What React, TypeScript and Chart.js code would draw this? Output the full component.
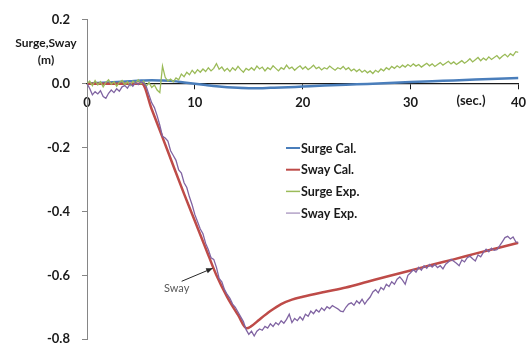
import React, { useEffect, useRef } from "react";
import { Chart, registerables } from "chart.js";

Chart.register(...registerables);

// ---------- data ----------
const seriesNames = ["Surge Cal.", "Sway Cal.", "Surge Exp.", "Sway Exp."];
const yTitleLines = ["Surge,Sway", "(m)"];
const xUnitLabel = "(sec.)";
const annotationLabel = "Sway";

const xTicks = [0, 10, 20, 30, 40];
const yTicks = [0.2, 0, -0.2, -0.4, -0.6, -0.8];

// calculated surge (time s, value m)
const surgeCalT = [0, 2, 4, 5, 6, 7, 8, 9, 10, 11, 12, 13, 14, 15, 16, 17, 18, 20, 22, 25, 28, 30, 33, 36, 40];
const surgeCalV = [0, 0.004, 0.008, 0.01, 0.011, 0.01, 0.008, 0.004, 0, -0.004, -0.008, -0.011, -0.013, -0.014, -0.014, -0.013, -0.012, -0.009, -0.006, -0.002, 0.002, 0.005, 0.009, 0.013, 0.018];

// calculated sway
const swayCalT = [0, 5.1, 6, 7, 8, 9, 10, 11, 12, 13, 14, 14.8, 15.2, 16, 17, 18, 19, 20, 22, 24, 26, 28, 30, 32, 34, 36, 38, 40];
const swayCalV = [0, 0, -0.08, -0.168, -0.257, -0.345, -0.43, -0.515, -0.6, -0.668, -0.724, -0.766, -0.76, -0.738, -0.712, -0.69, -0.676, -0.667, -0.652, -0.638, -0.62, -0.602, -0.585, -0.567, -0.55, -0.532, -0.515, -0.498];

// experiments, sampled every 0.25 s from 0 to 40 s
const expStep = 0.25;
const surgeExpV = [
  0.0, 0.008, -0.006, 0.01, -0.004, 0.006, -0.01, 0.004, 0.012, -0.002, 0.006, -0.008, 0.004, 0.01, -0.004, 0.006, -0.006, 0.008, 0.002, 0.012,
  0.0, 0.008, -0.008, 0.004, -0.012, -0.004, -0.02, -0.028, 0.055, 0.02, 0.008, 0.014, 0.006, 0.018, 0.012, 0.03, 0.022, 0.036, 0.028, 0.042,
  0.032, 0.044, 0.036, 0.046, 0.038, 0.05, 0.04, 0.048, 0.063, 0.045, 0.052, 0.04, 0.048, 0.038, 0.05, 0.042, 0.054, 0.044, 0.036, 0.048,
  0.042, 0.05, 0.042, 0.055, 0.046, 0.052, 0.04, 0.05, 0.044, 0.056, 0.048, 0.04, 0.05, 0.045, 0.058, 0.047, 0.052, 0.042, 0.05, 0.056,
  0.046, 0.053, 0.044, 0.05, 0.058, 0.047, 0.052, 0.043, 0.05, 0.046, 0.055, 0.048, 0.042, 0.05, 0.046, 0.054, 0.044, 0.05, 0.04, 0.046,
  0.038, 0.045, 0.036, 0.042, 0.034, 0.04, 0.032, 0.042, 0.036, 0.046, 0.04, 0.05, 0.044, 0.054, 0.048, 0.056, 0.05, 0.058, 0.052, 0.06,
  0.054, 0.062, 0.055, 0.06, 0.052, 0.058, 0.064, 0.056, 0.062, 0.054, 0.06, 0.066, 0.058, 0.064, 0.07, 0.062, 0.068, 0.06, 0.066, 0.072,
  0.064, 0.07, 0.078, 0.068, 0.075, 0.082, 0.072, 0.08, 0.074, 0.084, 0.076, 0.082, 0.088, 0.078, 0.086, 0.092, 0.084, 0.094, 0.088, 0.1,
  0.098,
];
const swayExpV = [
  0.0, -0.015, -0.035, -0.025, -0.032, -0.022, -0.04, -0.046, -0.03, -0.02, -0.028, -0.016, -0.024, -0.01, -0.006, -0.014, 0.0, -0.008, 0.004, -0.003,
  0.006, 0.002, -0.01, -0.035, -0.06, -0.075, -0.1, -0.13, -0.165, -0.17, -0.18, -0.21, -0.225, -0.24, -0.27, -0.28, -0.31, -0.325, -0.355, -0.38,
  -0.41, -0.432, -0.455, -0.47, -0.5, -0.52, -0.545, -0.55, -0.575, -0.61, -0.62, -0.645, -0.66, -0.672, -0.69, -0.7, -0.715, -0.73, -0.745, -0.77,
  -0.785, -0.775, -0.79, -0.775, -0.768, -0.772, -0.76, -0.765, -0.752, -0.76, -0.748, -0.755, -0.742, -0.75, -0.738, -0.722, -0.748, -0.735, -0.742, -0.73,
  -0.74, -0.722, -0.728, -0.712, -0.72, -0.708, -0.715, -0.702, -0.71, -0.698, -0.704, -0.695, -0.7, -0.705, -0.712, -0.714, -0.7, -0.69, -0.686, -0.694,
  -0.68, -0.688, -0.675, -0.69, -0.678, -0.668, -0.652, -0.645, -0.655, -0.638, -0.645, -0.628, -0.635, -0.62, -0.628, -0.612, -0.605, -0.615, -0.628, -0.6,
  -0.592, -0.582, -0.59, -0.575, -0.584, -0.57, -0.578, -0.566, -0.574, -0.566, -0.576, -0.57, -0.58, -0.565, -0.558, -0.55, -0.556, -0.562, -0.57, -0.552,
  -0.558, -0.545, -0.54, -0.548, -0.555, -0.536, -0.542, -0.528, -0.518, -0.526, -0.515, -0.522, -0.52, -0.508, -0.495, -0.482, -0.478, -0.486, -0.48, -0.495,
  -0.498,
];

// where the "Sway" arrow points (on the calculated sway curve)
const arrowTip = { t: 11.65, v: -0.578 };

// ---------- helpers ----------
const pairs = (ts: number[], vs: number[]) => vs.map((v, i) => ({ x: ts[i], y: v }));
const expPairs = (vs: number[]) => vs.map((v, i) => ({ x: i * expStep, y: v }));

const FONT = "Lato, 'Open Sans', sans-serif";
const colors = ["#4A7EBB", "#BE4B48", "#9BBB59", "#8064A2"];
const legendColors = ["#4A7EBB", "#BE4B48", "#9BBB59", "#B3A2C7"];
const widths = [2.5, 2.5, 1.3, 1.3];

const annotPlugin = {
  id: "annot",
  afterDraw(chart: any) {
    const { ctx, scales } = chart;
    const xs = scales.x;
    const ys = scales.y;
    ctx.save();
    ctx.fillStyle = "#1a1a1a";
    ctx.textAlign = "center";
    ctx.textBaseline = "middle";
    ctx.font = `bold 12px ${FONT}`;
    ctx.fillText(yTitleLines[0], 46, 43);
    ctx.fillText(yTitleLines[1], 46, 60);
    ctx.font = `bold 13px ${FONT}`;
    ctx.fillText(xUnitLabel, 471, 101);

    // legend
    ctx.textAlign = "left";
    ctx.font = `bold 12.5px ${FONT}`;
    seriesNames.forEach((name, i) => {
      const y = 148 + i * 21.7;
      ctx.strokeStyle = legendColors[i];
      ctx.lineWidth = i < 2 ? 2 : 1.5;
      ctx.beginPath();
      ctx.moveTo(286, y);
      ctx.lineTo(300, y);
      ctx.stroke();
      ctx.fillStyle = "#1a1a1a";
      ctx.fillText(name, 301, y + 0.5);
    });

    // arrow annotation
    const tx = xs.getPixelForValue(arrowTip.t);
    const ty = ys.getPixelForValue(arrowTip.v);
    const sx = tx - 31;
    const sy = ty + 13;
    ctx.strokeStyle = "#262626";
    ctx.fillStyle = "#262626";
    ctx.lineWidth = 1;
    ctx.beginPath();
    ctx.moveTo(sx, sy);
    ctx.lineTo(tx, ty);
    ctx.stroke();
    const ang = Math.atan2(ty - sy, tx - sx);
    ctx.beginPath();
    ctx.moveTo(tx, ty);
    ctx.lineTo(tx - 7 * Math.cos(ang - 0.4), ty - 7 * Math.sin(ang - 0.4));
    ctx.lineTo(tx - 7 * Math.cos(ang + 0.4), ty - 7 * Math.sin(ang + 0.4));
    ctx.closePath();
    ctx.fill();
    ctx.fillStyle = "#595959";
    ctx.textAlign = "center";
    ctx.font = `11px ${FONT}`;
    ctx.fillText(annotationLabel, sx - 5, sy + 7);
    ctx.restore();
  },
};

export default function App() {
  const ref = useRef<HTMLCanvasElement | null>(null);

  useEffect(() => {
    if (!ref.current) return;
    const chart = new Chart(ref.current, {
      type: "line",
      data: {
        datasets: [
          { label: seriesNames[0], data: pairs(surgeCalT, surgeCalV), order: 4 },
          { label: seriesNames[1], data: pairs(swayCalT, swayCalV), order: 3 },
          { label: seriesNames[2], data: expPairs(surgeExpV), order: 2 },
          { label: seriesNames[3], data: expPairs(swayExpV), order: 1 },
        ].map((d, i) => ({
          ...d,
          borderColor: colors[i],
          backgroundColor: colors[i],
          borderWidth: widths[i],
          pointRadius: 0,
          fill: false,
          cubicInterpolationMode: i < 2 ? ("monotone" as const) : ("default" as const),
          tension: 0,
        })),
      },
      options: {
        animation: false,
        responsive: false,
        events: [],
        layout: { padding: { top: 9, right: 4, left: 0, bottom: 0 } },
        plugins: { legend: { display: false }, tooltip: { enabled: false } },
        scales: {
          x: {
            type: "linear",
            position: { y: 0 } as any,
            min: 0,
            max: 40,
            afterFit: (s: any) => {
              s.height = 0;
            },
            afterBuildTicks: (s: any) => {
              s.ticks = xTicks.map((v) => ({ value: v }));
            },
            ticks: {
              padding: 6,
              color: "#1a1a1a",
              font: { family: FONT, size: 13, weight: "bold" },
              maxRotation: 0,
              callback: (v: any) => String(v),
            },
            grid: { drawOnChartArea: false, drawTicks: true, tickLength: 5, color: "#1a1a1a" },
            border: { color: "#1a1a1a", width: 1.3 },
          },
          y: {
            type: "linear",
            min: -0.8,
            max: 0.2,
            afterFit: (s: any) => {
              s.width = 87;
            },
            afterBuildTicks: (s: any) => {
              s.ticks = yTicks.map((v) => ({ value: v }));
            },
            ticks: {
              padding: 12,
              color: "#1a1a1a",
              font: { family: FONT, size: 13, weight: "bold" },
              callback: (v: any) => (Math.abs(Number(v)) < 1e-9 ? "0.0" : Number(v).toFixed(1)),
            },
            grid: { drawOnChartArea: false, drawTicks: true, tickLength: 5, color: "#868686" },
            border: { color: "#868686", width: 1 },
          },
        },
      },
      plugins: [annotPlugin],
    });
    return () => chart.destroy();
  }, []);

  return (
    <div style={{ position: "fixed", left: 0, top: 0, width: 527, height: 345, overflow: "hidden", background: "#fff" }}>
      <canvas ref={ref} width={532} height={359} style={{ display: "block" }} />
    </div>
  );
}
